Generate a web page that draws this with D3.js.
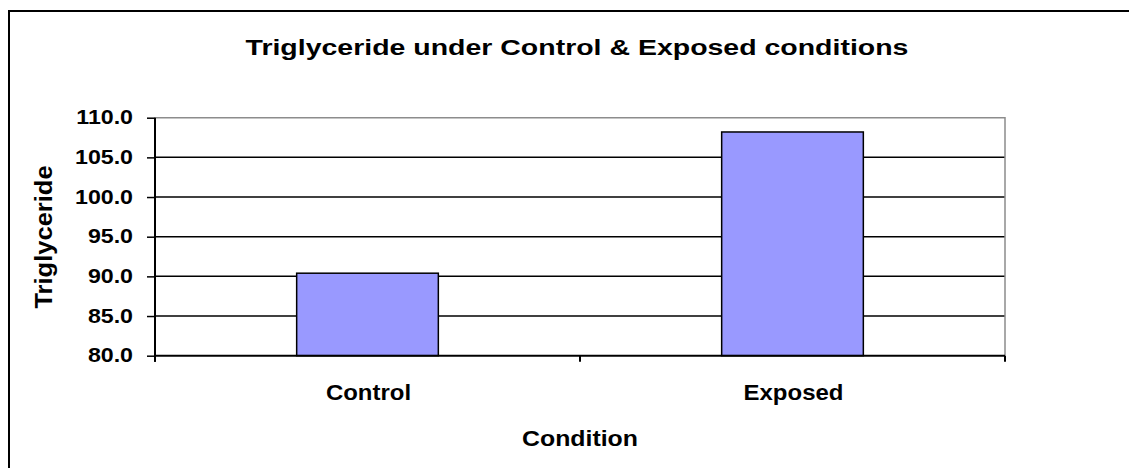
<!DOCTYPE html>
<html>
<head>
<meta charset="utf-8">
<script src="https://cdn.jsdelivr.net/npm/d3@7"></script>
<style>
  body { margin: 0; background: white; }
  text { font-family: "Liberation Sans", Arial, sans-serif; font-weight: bold; fill: black; }
</style>
</head>
<body>
<svg width="1129" height="468"></svg>
<script>

const categories = [ "Control", "Exposed" ];
const values = [ 90.4, 108.2 ];
const yTicks = [ 80, 85, 90, 95, 100, 105, 110 ];

const chartTitle = "Triglyceride under Control & Exposed conditions";
const xTitle = "Condition";
const yTitle = "Triglyceride";

// text in the source picture is stretched sideways, so squash/stretch with a transform
function label( sel, x, y, size, sx, anchor, rot ) {
    return sel.append( "text" )
       .attr( "transform", `translate(${x},${y})` + ( rot ? ` rotate(${rot})` : "" ) + ` scale(${sx},1)` )
       .attr( "text-anchor", anchor || "middle" )
       .attr( "font-size", size );
}

function drawChart() {
    const svg = d3.select( "svg" );

    const left = 155, right = 1005, top = 117.7, bottom = 355.7;

    // outer frame, right and bottom edges run off the picture
    svg.append( "rect" )
       .attr( "x", 9 ).attr( "y", 11 )
       .attr( "width", 1200 ).attr( "height", 500 )
       .attr( "fill", "white" ).attr( "stroke", "black" ).attr( "stroke-width", 2 );

    var scX = d3.scaleBand().domain( categories ).range( [left, right] )
                .paddingInner( 2/3 ).paddingOuter( 1/3 );
    var scY = d3.scaleLinear().domain( [80, 110] ).range( [bottom, top] );

    // gridlines
    svg.append( "g" ).selectAll( "line" )
       .data( yTicks.slice( 1, -1 ) ).enter().append( "line" )
       .attr( "x1", left ).attr( "x2", right )
       .attr( "y1", d => scY( d ) ).attr( "y2", d => scY( d ) )
       .attr( "stroke", "black" ).attr( "stroke-width", 1.5 );

    // plot area edge (top + right) in gray
    svg.append( "path" )
       .attr( "d", `M${left},${scY(110)}H${right}V${scY(80)}` )
       .attr( "fill", "none" ).attr( "stroke", "#8c8c8c" ).attr( "stroke-width", 1.5 );

    // bars
    svg.append( "g" ).selectAll( "rect" )
       .data( categories ).enter().append( "rect" )
       .attr( "x", d => scX( d ) )
       .attr( "width", scX.bandwidth() )
       .attr( "y", (d,i) => scY( values[i] ) )
       .attr( "height", (d,i) => scY( 80 ) - scY( values[i] ) )
       .attr( "fill", "#9999ff" ).attr( "stroke", "black" ).attr( "stroke-width", 1.5 );

    // y axis
    var yAxis = d3.axisLeft( scY ).tickValues( yTicks ).tickFormat( "" ).tickSize( 8 );
    var gy = svg.append( "g" ).attr( "transform", `translate(${left},0)` ).call( yAxis );
    gy.select( ".domain" ).remove();
    gy.selectAll( "line" ).attr( "stroke", "black" ).attr( "stroke-width", 1.5 );

    const fmt = d3.format( ".1f" );
    yTicks.forEach( t => {
        label( svg, 133, scY( t ) + 6.5, 20, 1.16, "end" ).text( fmt( t ) );
    } );

    svg.append( "line" )
       .attr( "x1", left ).attr( "x2", left )
       .attr( "y1", scY( 110 ) ).attr( "y2", bottom + 6 )
       .attr( "stroke", "black" ).attr( "stroke-width", 2 );

    // x axis
    svg.append( "line" )
       .attr( "x1", left ).attr( "x2", right )
       .attr( "y1", bottom ).attr( "y2", bottom )
       .attr( "stroke", "black" ).attr( "stroke-width", 2 );

    const step = scX.step();
    const bounds = [ left ].concat( categories.map( c => scX( c ) + scX.bandwidth() + step / 3 ) );
    svg.append( "g" ).selectAll( "line" )
       .data( bounds ).enter().append( "line" )
       .attr( "x1", d => d ).attr( "x2", d => d )
       .attr( "y1", bottom ).attr( "y2", bottom + 6 )
       .attr( "stroke", "black" ).attr( "stroke-width", 2 );

    categories.forEach( c => {
        label( svg, scX( c ) + scX.bandwidth() / 2 + 1, 400, 22, 1.09 ).text( c );
    } );

    // titles
    label( svg, 577, 55, 22, 1.295 ).text( chartTitle );
    label( svg, 580, 446, 22, 1.13 ).text( xTitle );
    label( svg, 52, 237, 23, 1.11, "middle", -90 ).text( yTitle );
}

drawChart();
</script>
</body>
</html>
